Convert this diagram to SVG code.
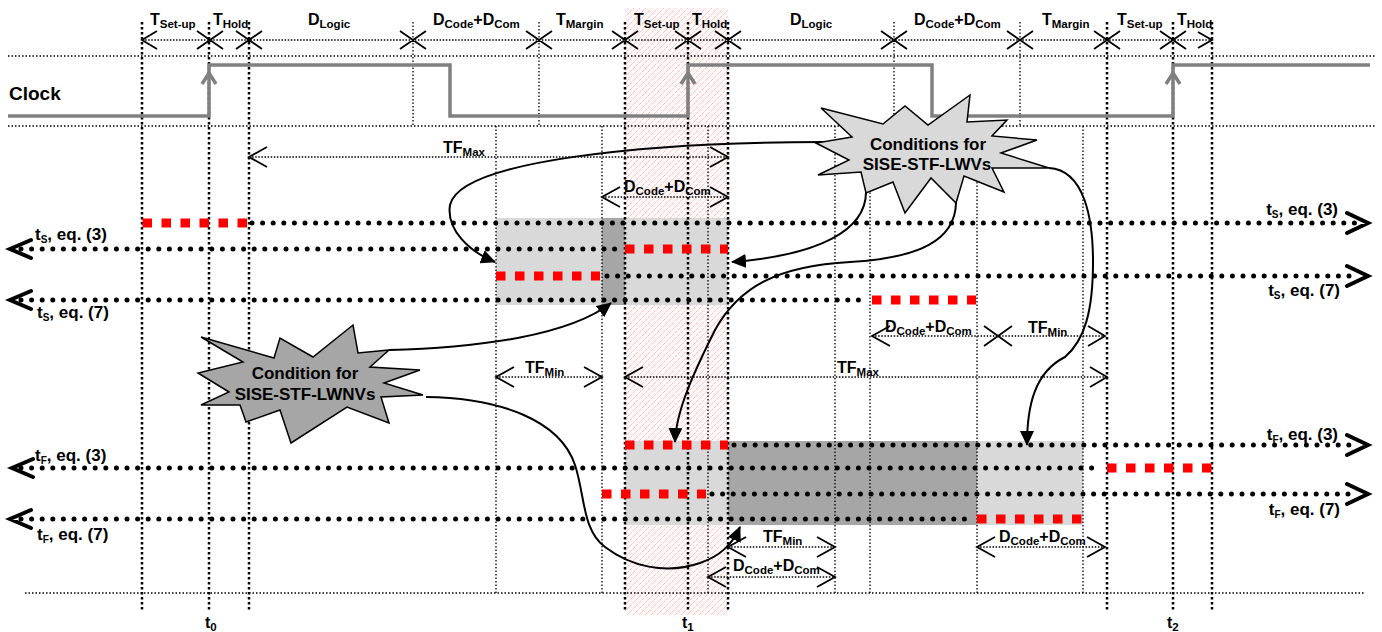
<svg xmlns="http://www.w3.org/2000/svg" width="1382" height="632" viewBox="0 0 1382 632">
<style>
.vthick{stroke:#000;stroke-width:2.5;stroke-dasharray:2.5 2.5;fill:none}
.vthin{stroke:#000;stroke-width:1.3;stroke-dasharray:1.5 2;fill:none}
.dim{stroke:#000;stroke-width:1.3;stroke-dasharray:1.5 1.6;fill:none}
.chev{stroke:#000;stroke-width:1.8;fill:none}
.dots{stroke:#000;stroke-width:5;stroke-linecap:round;stroke-dasharray:0 10.6;fill:none}
.red{stroke:#ff0000;stroke-width:9;stroke-dasharray:9.5 9.5;fill:none}
.big{stroke:#000;stroke-width:4;fill:none;stroke-linecap:round;stroke-linejoin:miter}
.clock{stroke:#808080;stroke-width:3.5;fill:none}
.curve{stroke:#000;stroke-width:2;fill:none;marker-end:url(#ah)}
.lg{fill:#d9d9d9}
.dg{fill:#a6a6a6}
.star{stroke:#000;stroke-width:1.5}
text{font-family:"Liberation Sans",Arial,sans-serif;font-weight:bold;font-size:16px;fill:#000}
.sub{font-size:11.5px}
.row{font-size:17px}
.rs{font-size:10px}
.st{font-size:17px}
</style>
<defs>
<pattern id="hatch" width="6" height="6" patternUnits="userSpaceOnUse">
<rect width="6" height="6" fill="#fff8f8"/>
<path d="M-1,1 L1,-1 M0,6 L6,0 M5,7 L7,5" stroke="#ffa8a8" stroke-width="1" stroke-dasharray="1 1"/>
</pattern>
<marker id="ah" markerUnits="userSpaceOnUse" markerWidth="16" markerHeight="14" refX="14" refY="7" orient="auto">
<path d="M0,0 L15,7 L0,14 Z" fill="#000"/>
</marker>
</defs>
<rect width="1382" height="632" fill="#fff"/>
<g id="band"><rect x="625" y="8" width="103" height="607" fill="url(#hatch)"/></g>
<g id="boxes">
<rect class="lg" x="496" y="218" width="232" height="87"/>
<rect class="dg" x="602" y="218" width="23" height="87"/>
<rect class="lg" x="625" y="441" width="103" height="84"/>
<rect class="dg" x="728" y="441" width="249" height="84"/>
<rect class="lg" x="977" y="441" width="106" height="84"/>
</g>
<g id="grid">
<path class="vthin" d="M8,56 H1375 M8,126 H1375 M25,593 H1365"/>
<path class="vthick" d="M142,22 V612 M209,22 V612 M249,22 V612 M625,22 V612 M688,22 V612 M728,22 V612 M1107,22 V612 M1173,22 V612 M1212,22 V612"/>
<path class="vthin" d="M413,22 V126 M539,22 V126 M894,22 V126 M1020,22 V126"/>
<path class="vthin" d="M496,126 V593 M602,126 V593 M708,126 V593 M835,126 V593 M870,126 V593 M977,126 V593 M1083,126 V593"/>
</g>
<g id="clock">
<path class="clock" d="M8,116 H209 V65 H450 V116 H688 V65 H932 V116 H1173 V65 H1370"/>
<path class="clock" d="M202,84 L209,73 L216,84 M681,84 L688,73 L695,84 M1166,84 L1173,73 L1180,84"/>
<text x="9" y="100" style="font-size:19px">Clock</text>
</g>
<g id="timing-row">
<path class="dim" d="M142,40 H1212"/>
<path class="chev" d="M157,31 L142,40 L157,49 M197,31 L223,49 M197,49 L223,31 M236,31 L262,49 M236,49 L262,31 M400,31 L426,49 M400,49 L426,31 M526,31 L552,49 M526,49 L552,31 M612,31 L638,49 M612,49 L638,31 M675,31 L701,49 M675,49 L701,31 M715,31 L741,49 M715,49 L741,31 M881,31 L907,49 M881,49 L907,31 M1007,31 L1033,49 M1007,49 L1033,31 M1094,31 L1120,49 M1094,49 L1120,31 M1160,31 L1186,49 M1160,49 L1186,31 M1198,32 L1212,40 L1198,48"/>
<text x="150" y="25">T<tspan class="sub" dy="3">Set-up</tspan></text>
<text x="213" y="25">T<tspan class="sub" dy="3">Hold</tspan></text>
<text x="308" y="25">D<tspan class="sub" dy="3">Logic</tspan></text>
<text x="433" y="25">D<tspan class="sub" dy="3">Code</tspan><tspan dy="-3">+D</tspan><tspan class="sub" dy="3">Com</tspan></text>
<text x="556" y="25">T<tspan class="sub" dy="3">Margin</tspan></text>
<text x="634" y="25">T<tspan class="sub" dy="3">Set-up</tspan></text>
<text x="692" y="25">T<tspan class="sub" dy="3">Hold</tspan></text>
<text x="790" y="25">D<tspan class="sub" dy="3">Logic</tspan></text>
<text x="914" y="25">D<tspan class="sub" dy="3">Code</tspan><tspan dy="-3">+D</tspan><tspan class="sub" dy="3">Com</tspan></text>
<text x="1042" y="25">T<tspan class="sub" dy="3">Margin</tspan></text>
<text x="1117" y="25">T<tspan class="sub" dy="3">Set-up</tspan></text>
<text x="1177" y="25">T<tspan class="sub" dy="3">Hold</tspan></text>
</g>
<g id="dimensions">
<path class="dim" d="M249,157 H728 M602,197 H728 M872,336 H1105 M496,377 H602 M625,377 H1107 M728,547 H835 M708,577 H835 M977,547 H1105"/>
<path class="chev" d="M267,147 L249,157 L267,167 M710,147 L728,157 L710,167 M620,187 L602,197 L620,207 M710,187 L728,197 L710,207 M890,326 L872,336 L890,346 M984,326 L1012,346 M984,346 L1012,326 M1088,326 L1105,336 L1088,346 M514,367 L496,377 L514,387 M584,367 L602,377 L584,387 M643,367 L625,377 L643,387 M1090,367 L1107,377 L1090,387 M746,537 L728,547 L746,557 M817,537 L835,547 L817,557 M726,567 L708,577 L726,587 M817,567 L835,577 L817,587 M995,537 L977,547 L995,557 M1087,537 L1105,547 L1087,557"/>
<text x="443" y="153">TF<tspan class="sub" dy="3">Max</tspan></text>
<text x="624" y="192">D<tspan class="sub" dy="3">Code</tspan><tspan dy="-3">+D</tspan><tspan class="sub" dy="3">Com</tspan></text>
<text x="885" y="332">D<tspan class="sub" dy="3">Code</tspan><tspan dy="-3">+D</tspan><tspan class="sub" dy="3">Com</tspan></text>
<text x="1028" y="333">TF<tspan class="sub" dy="3">Min</tspan></text>
<text x="525" y="373">TF<tspan class="sub" dy="3">Min</tspan></text>
<text x="837" y="373">TF<tspan class="sub" dy="3">Max</tspan></text>
<text x="763" y="542">TF<tspan class="sub" dy="3">Min</tspan></text>
<text x="733" y="571">D<tspan class="sub" dy="3">Code</tspan><tspan dy="-3">+D</tspan><tspan class="sub" dy="3">Com</tspan></text>
<text x="999" y="542">D<tspan class="sub" dy="3">Code</tspan><tspan dy="-3">+D</tspan><tspan class="sub" dy="3">Com</tspan></text>
</g>
<g id="rows">
<path class="dots" d="M252,223 H1356 M21,249 H620 M607,276 H1356 M21,300 H866 M734,445 H1356 M21,468 H1102 M712,494 H1356 M21,519 H972"/>
<path class="red" d="M142.5,223 H247 M625,249 H728 M496,276 H600 M872,300 H976 M625,445 H728 M1107,468 H1212 M602,494 H706 M977,519 H1083"/>
<path class="big" d="M1347,213 L1368,223 L1347,233 M1347,266 L1368,276 L1347,286 M1347,435 L1368,445 L1347,455 M1347,484 L1368,494 L1347,504 M31,240 L10,249 L31,258 M31,291 L10,300 L31,309 M33,459 L12,468 L33,477 M31,510 L10,519 L31,528"/>
<text class="row" x="35" y="240">t<tspan class="rs" dy="3">S</tspan><tspan dy="-3">, eq. (3)</tspan></text>
<text class="row" x="37" y="318">t<tspan class="rs" dy="3">S</tspan><tspan dy="-3">, eq. (7)</tspan></text>
<text class="row" x="1338" y="215" text-anchor="end">t<tspan class="rs" dy="3">S</tspan><tspan dy="-3">, eq. (3)</tspan></text>
<text class="row" x="1340" y="296" text-anchor="end">t<tspan class="rs" dy="3">S</tspan><tspan dy="-3">, eq. (7)</tspan></text>
<text class="row" x="35" y="461">t<tspan class="rs" dy="3">F</tspan><tspan dy="-3">, eq. (3)</tspan></text>
<text class="row" x="37" y="540">t<tspan class="rs" dy="3">F</tspan><tspan dy="-3">, eq. (7)</tspan></text>
<text class="row" x="1338" y="440" text-anchor="end">t<tspan class="rs" dy="3">F</tspan><tspan dy="-3">, eq. (3)</tspan></text>
<text class="row" x="1340" y="515" text-anchor="end">t<tspan class="rs" dy="3">F</tspan><tspan dy="-3">, eq. (7)</tspan></text>
</g>
<g id="time-labels">
<text x="205" y="628">t<tspan class="sub" dy="3">0</tspan></text>
<text x="682" y="628">t<tspan class="sub" dy="3">1</tspan></text>
<text x="1167" y="628">t<tspan class="sub" dy="3">2</tspan></text>
</g>
<g id="connectors">
<path class="curve" d="M824,142 C650,142 460,160 450,205 C446,230 470,252 495,262"/>
<path class="curve" d="M866,192 C866,230 820,255 732,262"/>
<path class="curve" d="M956,203 C955,240 920,258 850,262 C780,266 740,285 715,330 C695,370 676,410 675,442"/>
<path class="curve" d="M1049,168 C1085,170 1093,220 1093,262 C1093,310 1085,340 1065,357 C1035,372 1027,405 1027,445"/>
<path class="curve" d="M389,350 C480,348 570,335 611,303"/>
<path class="curve" d="M426,397 C500,398 560,420 575,465 C585,495 582,530 605,547 C630,566 665,575 700,563 C720,556 732,545 740,527"/>
</g>
<g id="star-lwvs">
<polygon class="star lg" points="821,108 883,124 905,106 928,125 970,95 967,122 1007,120 992,136 1037,140 1001,153 1049,168 992,168 1004,192 964,176 956,203 931,178 905,213 893,182 866,193 861,172 818,175 849,160 816,143 852,137"/>
<text class="st" x="928" y="150" text-anchor="middle">Conditions for</text>
<text class="st" x="927" y="170" text-anchor="middle">SISE-STF-LWVs</text>
</g>
<g id="star-lwnvs">
<polygon class="star dg" points="201,337 274,358 280,338 313,357 353,325 358,353 389,350 370,367 420,370 384,383 423,395 381,397 389,423 347,407 291,443 280,410 246,422 240,405 201,405 229,392 198,373 243,362"/>
<text class="st" x="305" y="379" text-anchor="middle">Condition for</text>
<text class="st" x="305" y="400" text-anchor="middle">SISE-STF-LWNVs</text>
</g>
</svg>
